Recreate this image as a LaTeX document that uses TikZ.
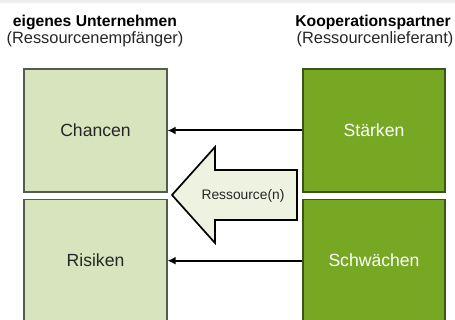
\documentclass[tikz,border=0pt]{standalone}
\usepackage{fontspec}
\setmainfont{Liberation Sans}
\usetikzlibrary{positioning,arrows.meta}
\definecolor{band}{HTML}{EFEFEF}
\definecolor{palegreen}{HTML}{D7E4BD}
\definecolor{paleedge}{HTML}{555B4D}
\definecolor{leaf}{HTML}{77A824}
\definecolor{leafedge}{HTML}{3A541A}
\definecolor{arrowfill}{HTML}{EDF2E1}
\definecolor{txt}{HTML}{262626}
\tikzset{
  own/.style={draw=paleedge, fill=palegreen, line width=1.2pt, inner sep=0pt,
              minimum width=143pt, minimum height=123pt,
              font=\fontsize{17.6}{20}\selectfont, text=txt},
  partner/.style={own, draw=leafedge, fill=leaf, text=white, minimum width=142pt},
  head/.style={font=\fontsize{15.7}{18}\selectfont\bfseries, inner sep=0pt},
  sub/.style={font=\fontsize{16.4}{18}\selectfont, inner sep=0pt, text=txt},
  ar/.style={-{Latex[length=8pt,width=8pt]}, line width=2pt},
  bigar/.style={draw, fill=arrowfill, line width=1.7pt, line join=miter},
}

\begin{document}
\begin{tikzpicture}
\useasboundingbox (0,0) rectangle (455pt,-320pt);
\fill[band] (0,0) rectangle (455pt,-3pt);

% the two sides
\node[own] (chancen) at (95.5pt,-130.5pt) {Chancen};
\node[own, below=6pt of chancen] (risiken) {Risiken};
\node[partner] (staerken) at (374pt,-130.5pt) {Stärken};
\node[partner, below=6pt of staerken] (schwaechen) {Schwächen};

\node[head] (eigen) at (95pt,-22pt) {eigenes Unternehmen};
\node[sub] (empf) at (95pt,-39.5pt) {(Ressourcenempfänger)};
\node[head] (koop) at (373pt,-22pt) {Kooperationspartner};
\node[sub] (lief) at (375pt,-39.5pt) {(Ressourcenlieferant)};

\draw[ar] (staerken) -- (chancen);
\draw[ar] (schwaechen) -- (risiken);

% big arrow in the middle
\coordinate (tip) at (172pt,-195pt);
\draw[bigar] (tip) -- (215pt,-147pt) -- (215pt,-170pt) -- (297pt,-170pt)
  -- (297pt,-220pt) -- (215pt,-220pt) -- (215pt,-243pt) -- cycle;
\node[font=\fontsize{13.8}{16}\selectfont, text=txt] (ress) at (243pt,-196pt) {Ressource(n)};

\end{tikzpicture}
\end{document}
